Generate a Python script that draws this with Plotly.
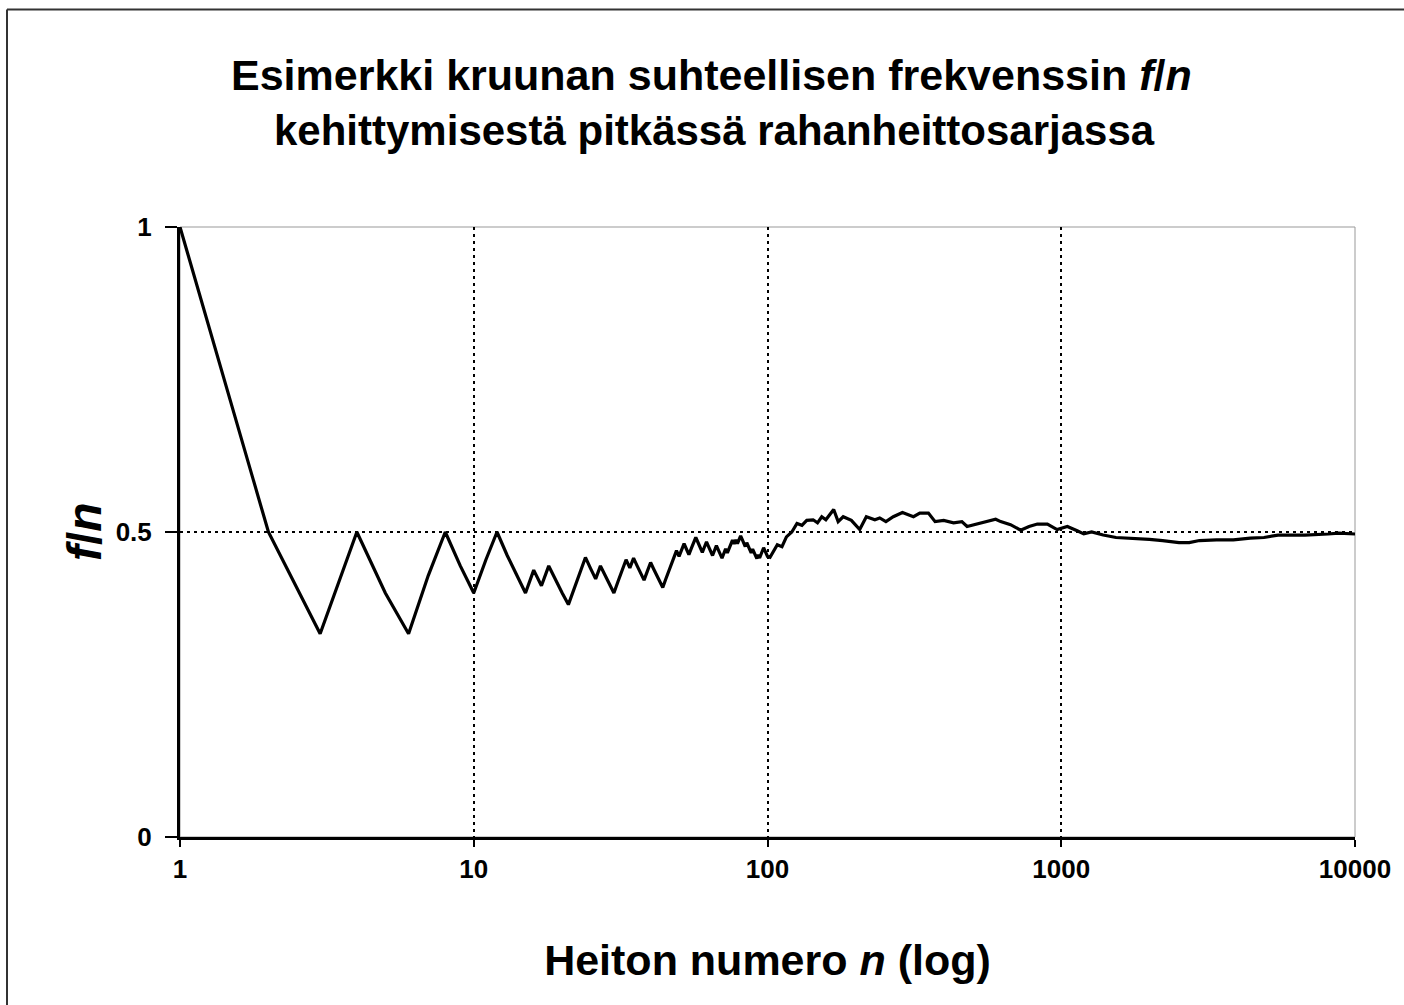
import plotly.graph_objects as go

# Throw number n and relative frequency of heads f/n
n_values = [
    1, 2, 3, 4, 5, 6, 7, 8, 9, 10,
    11, 12, 13, 14, 15, 16, 17, 18, 19, 20,
    21, 22, 23, 24, 25, 26, 27, 28, 29, 30,
    31, 32, 33, 34, 35, 36, 37, 38, 39, 40,
    41, 42, 43, 44, 45, 46, 47, 48, 49, 50,
    51, 52, 53, 54, 55, 56, 57, 58, 59, 60,
    61, 62, 63, 64, 65, 66, 67, 68, 69, 70,
    71, 72, 73, 74, 75, 76, 77, 78, 79, 80,
    81, 82, 83, 84, 85, 86, 87, 88, 89, 90,
    91, 92, 93, 94, 95, 96, 97, 98, 99, 100,
    102, 108, 112, 116, 121, 126, 131, 136, 143, 148,
    153, 158, 168, 174, 181, 193, 206, 217, 232, 241,
    253, 268, 288, 301, 314, 330, 353, 372, 398, 430,
    459, 478, 518, 553, 598, 622, 672, 727, 777, 829,
    897, 968, 1049, 1133, 1193, 1269, 1389, 1536, 1748, 1995,
    2214, 2516, 2726, 2954, 3375, 3854, 4400, 4898, 5468, 6749,
    8100, 8800, 10000,
]
fn_values = [
    1.0, 0.5, 0.3333, 0.5, 0.4, 0.3333, 0.4286, 0.5, 0.4444, 0.4,
    0.4545, 0.5, 0.4615, 0.4286, 0.4, 0.4375, 0.4118, 0.4444, 0.4211, 0.4,
    0.381, 0.4091, 0.4348, 0.4583, 0.44, 0.4231, 0.4444, 0.4286, 0.4138, 0.4,
    0.4194, 0.4375, 0.4545, 0.4412, 0.4571, 0.4444, 0.4324, 0.4211, 0.4359, 0.45,
    0.439, 0.4286, 0.4186, 0.4091, 0.4222, 0.4348, 0.4468, 0.4583, 0.4694, 0.46,
    0.4706, 0.4808, 0.4717, 0.463, 0.4727, 0.4821, 0.4912, 0.4828, 0.4746, 0.4667,
    0.4754, 0.4839, 0.4762, 0.4688, 0.4615, 0.4697, 0.4776, 0.4706, 0.4638, 0.4571,
    0.4648, 0.4722, 0.4658, 0.473, 0.48, 0.4868, 0.4805, 0.4872, 0.481, 0.4875,
    0.4938, 0.4878, 0.4819, 0.4762, 0.4824, 0.4767, 0.4713, 0.4659, 0.4719, 0.4667,
    0.4615, 0.4565, 0.4624, 0.4574, 0.4632, 0.4688, 0.4742, 0.4694, 0.4646, 0.46,
    0.4585, 0.479, 0.476, 0.492, 0.5, 0.514, 0.511, 0.519, 0.52, 0.515,
    0.525, 0.52, 0.537, 0.517, 0.525, 0.519, 0.504, 0.525, 0.52, 0.523,
    0.517, 0.525, 0.532, 0.528, 0.525, 0.531, 0.531, 0.517, 0.519, 0.515,
    0.517, 0.509, 0.513, 0.517, 0.521, 0.517, 0.512, 0.503, 0.509, 0.513,
    0.513, 0.504, 0.509, 0.502, 0.497, 0.5, 0.495, 0.491, 0.49, 0.488,
    0.486, 0.4825, 0.4825, 0.486, 0.487, 0.487, 0.49, 0.491, 0.495, 0.495,
    0.4967, 0.498, 0.4967,
]

x_tickvals = [1, 10, 100, 1000, 10000]
x_ticktext = ["1", "10", "100", "1000", "10000"]
y_tickvals = [0, 0.5, 1]
y_ticktext = ["0", "0.5", "1"]

title_line1 = "Esimerkki kruunan suhteellisen frekvenssin <i>f</i>/<i>n</i>"
title_line2 = "kehittymisestä pitkässä rahanheittosarjassa"
x_title = "Heiton numero <i>n</i> (log)"
y_title = "<i>f</i>/<i>n</i>"

FONT = "Liberation Sans, Arial, sans-serif"

fig = go.Figure()
fig.add_trace(go.Scatter(
    x=n_values, y=fn_values, mode="lines",
    line=dict(color="black", width=3.2),
    showlegend=False, cliponaxis=False,
))

W, H = 1404, 1005
L, R, T, B = 180, 49, 227, 168
pw, ph = W - L - R, H - T - B

def px_x(x):
    return (x - L) / pw

def px_y(y):
    return (H - B - y) / ph

GRID = dict(showgrid=True, gridcolor="black", gridwidth=1.6, griddash="3px,4px")

fig.update_layout(
    width=W, height=H,
    margin=dict(l=L, r=R, t=T, b=B),
    paper_bgcolor="white", plot_bgcolor="white",
    font=dict(family=FONT, color="black"),
    xaxis=dict(
        type="log", range=[0, 4],
        tickvals=x_tickvals, ticktext=x_ticktext,
        tickfont=dict(size=26, family=FONT, weight="bold"),
        showline=True, linecolor="black", linewidth=3,
        ticks="outside", ticklen=7, tickwidth=2, tickcolor="black",
        zeroline=False,
        title=dict(text="<b>" + x_title + "</b>", font=dict(size=43, family=FONT), standoff=62),
        **GRID,
    ),
    yaxis=dict(
        range=[0, 1],
        tickvals=y_tickvals, ticktext=y_ticktext,
        tickfont=dict(size=26, family=FONT, weight="bold"),
        showline=True, linecolor="black", linewidth=3,
        ticks="outside", ticklen=12, tickwidth=2, tickcolor="black",
        ticklabelstandoff=8,
        zeroline=False,
        **GRID,
    ),
    shapes=[
        dict(type="rect", xref="paper", yref="paper", x0=0, x1=1, y0=0, y1=1,
             line=dict(color="#999999", width=1), layer="below"),
        dict(type="line", xref="paper", yref="paper",
             x0=px_x(7), x1=px_x(W + 5), y0=px_y(9.5), y1=px_y(9.5),
             line=dict(color="#333333", width=2)),
        dict(type="line", xref="paper", yref="paper",
             x0=px_x(7), x1=px_x(7), y0=px_y(9.5), y1=px_y(H + 5),
             line=dict(color="#333333", width=2)),
    ],
    annotations=[
        dict(text="<b>" + title_line1 + "</b>", xref="paper", yref="paper",
             x=px_x(711), y=px_y(75), showarrow=False,
             font=dict(size=43, family=FONT), xanchor="center", yanchor="middle"),
        dict(text="<b>" + title_line2 + "</b>", xref="paper", yref="paper",
             x=px_x(714), y=px_y(130), showarrow=False,
             font=dict(size=42, family=FONT), xanchor="center", yanchor="middle"),
        dict(text="<b>" + y_title + "</b>", xref="paper", yref="paper",
             x=px_x(84), y=px_y(532), showarrow=False, textangle=-90,
             font=dict(size=48, family=FONT), xanchor="center", yanchor="middle"),
    ],
)

fig.write_html("out.html", config={"displayModeBar": False},
               post_script="document.body.style.margin='0';")
